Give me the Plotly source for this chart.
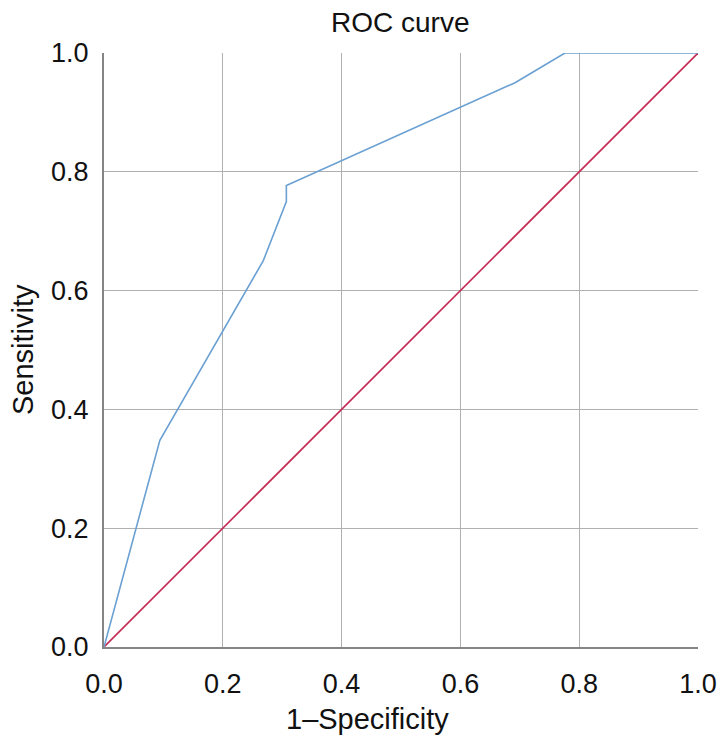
import plotly.graph_objects as go

fpr = [0.0, 0.094, 0.268, 0.307, 0.307, 0.692, 0.776, 1.0]
tpr = [0.0, 0.348, 0.650, 0.750, 0.777, 0.950, 1.0, 1.0]
ref_x = [0.0, 1.0]
ref_y = [0.0, 1.0]
ticks = [0.0, 0.2, 0.4, 0.6, 0.8, 1.0]
tick_text = ["0.0", "0.2", "0.4", "0.6", "0.8", "1.0"]

FAM = "Liberation Sans, Arial, Helvetica, sans-serif"
W, H = 719, 742
L, T = 104, 53
pw = ph = 594
R = W - L - pw
B = H - T - ph

fig = go.Figure()
fig.add_trace(go.Scatter(x=ref_x, y=ref_y, mode="lines",
                         line=dict(color="#c42a52", width=1.6), showlegend=False))
fig.add_trace(go.Scatter(x=fpr, y=tpr, mode="lines",
                         line=dict(color="#6aa0d2", width=1.6), showlegend=False))

axis_common = dict(range=[0, 1], tickvals=ticks, ticktext=tick_text,
                   tickfont=dict(family=FAM, size=27, color="#111"),
                   showgrid=True, gridcolor="#b0b0b0", gridwidth=1.4,
                   showline=True, linecolor="#858585", linewidth=2,
                   zeroline=False, ticks="", automargin=False, fixedrange=True)

fig.update_layout(
    width=W, height=H,
    margin=dict(l=L, r=R, t=T, b=B, autoexpand=False),
    paper_bgcolor="white", plot_bgcolor="white",
    font=dict(family=FAM, size=27, color="#111"),
    xaxis=dict(**axis_common, ticklabelstandoff=12),
    yaxis=dict(**axis_common, ticklabelstandoff=8),
    annotations=[
        dict(text="ROC curve", xref="paper", yref="paper",
             x=(400 - L) / pw, y=1 + (T - 22) / ph,
             xanchor="center", yanchor="middle", showarrow=False,
             font=dict(family=FAM, size=28, color="#111")),
        dict(text="1–Specificity", xref="paper", yref="paper",
             x=(367 - L) / pw, y=-(719 - (T + ph)) / ph,
             xanchor="center", yanchor="middle", showarrow=False,
             font=dict(family=FAM, size=29, color="#111")),
        dict(text="Sensitivity", xref="paper", yref="paper",
             x=-(L - 23) / pw, y=0.5, textangle=-90,
             xanchor="center", yanchor="middle", showarrow=False,
             font=dict(family=FAM, size=29, color="#111")),
    ],
)
fig.write_html(
    "out.html",
    config={"displayModeBar": False},
    post_script="document.body.style.margin='0';document.body.style.overflow='hidden';",
)
